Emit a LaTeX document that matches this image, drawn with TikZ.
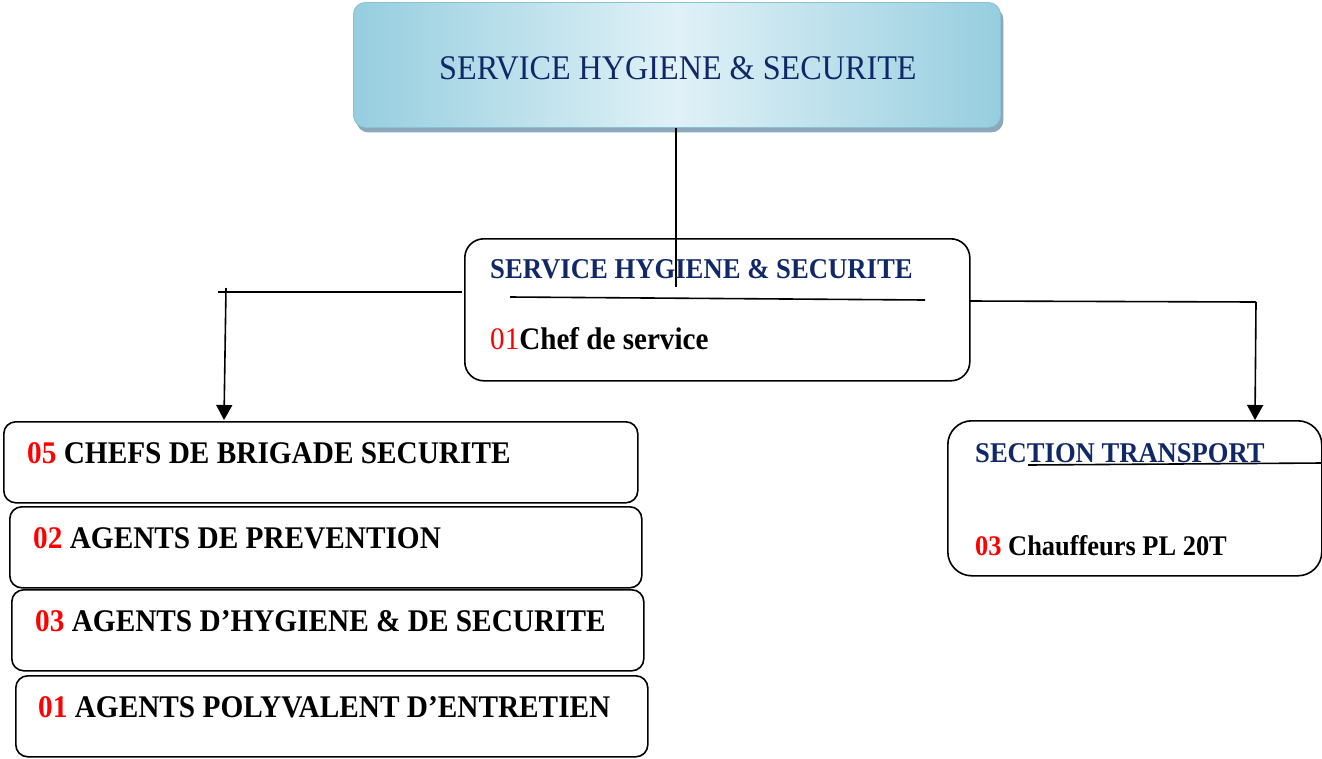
\documentclass[tikz,border=0pt]{standalone}
\usepackage{fontspec}
\setmainfont{Liberation Serif}[FakeStretch=0.93]
\usetikzlibrary{arrows.meta,shadows}

\definecolor{navy}{RGB}{16,40,104}
\definecolor{countred}{RGB}{255,0,0}
\definecolor{skyedge}{RGB}{150,206,223}
\definecolor{skymid}{RGB}{224,241,247}
\definecolor{skyline}{RGB}{138,194,212}
\definecolor{skyshadow}{RGB}{138,168,186}

\newcommand{\fs}[1]{\fontsize{#1}{#1}\selectfont}

\begin{document}
\begin{tikzpicture}[x=1pt,y=-1pt,
  box/.style={draw=black, line width=1.6pt, inner sep=0pt, anchor=north west},
  unitbox/.style={box, rounded corners=12pt, minimum width=632pt, minimum height=81pt},
  headbox/.style={draw=skyline, line width=0.8pt, inner sep=0pt, anchor=north west,
    rounded corners=12pt, minimum width=647pt, minimum height=125pt,
    left color=skyedge, right color=skyedge, middle color=skymid,
    drop shadow={shadow xshift=3pt, shadow yshift=-5pt, fill=skyshadow, opacity=1}},
  lbl/.style={anchor=base west, inner sep=0pt},
  link/.style={line width=1.6pt},
  arrowlink/.style={link, -{Triangle[width=16pt,length=15pt]}},
]
\useasboundingbox (0,0) rectangle (1322,758);

% boxes
\node[headbox] (top) at (353,2) {};
\node[box, rounded corners=19pt, minimum width=505pt, minimum height=142pt] (mid) at (464,238) {};
\node[unitbox, minimum width=634pt] (b1) at (3,421) {};
\node[unitbox] (b2) at (9,506) {};
\node[unitbox] (b3) at (11,589) {};
\node[unitbox] (b4) at (15,675) {};
\node[box, rounded corners=24pt, minimum width=374pt, minimum height=155pt] (tr) at (947,420) {};

% connector points
\coordinate (hub) at (676,287);
\coordinate (lfrom) at (462,292);
\coordinate (lcorner) at (218,292);
\coordinate (ldrop) at (226,288);
\coordinate (ltip) at (224,420);
\coordinate (rfrom) at (969,301);
\coordinate (rcorner) at (1256,302);
\coordinate (rtip) at (1255,420);

% connectors
\draw[link] (top.south -| hub) -- (hub);
\draw[link] (lfrom) -- (lcorner);
\draw[arrowlink] (ldrop) -- (ltip);
\draw[link] (rfrom) -- (rcorner);
\draw[arrowlink] (rcorner) -- (rtip);

% rules under headings
\coordinate (ua) at (510,297);
\coordinate (ub) at (925,300);
\draw[link] (ua) -- (ub);
\coordinate (uc) at (1028,465);
\coordinate (ud) at (1322,463);
\draw[link] (uc) -- (ud);

% texts
\node[lbl, text=navy] (toptxt) at (439,79) {\fs{34.6}SERVICE HYGIENE \& SECURITE};
\node[lbl, text=navy] (midtxt) at (490,278) {\fs{28.7}\bfseries SERVICE HYGIENE \& SECURITE};
\node[lbl] (chef) at (490,349) {\fs{31.3}\textcolor{countred}{01}\textbf{Chef de service}};
\node[lbl] (t1) at (27,463) {\fs{31.5}\bfseries\textcolor{countred}{05} CHEFS DE BRIGADE SECURITE};
\node[lbl] (t2) at (33,548) {\fs{31.5}\bfseries\textcolor{countred}{02} AGENTS DE PREVENTION};
\node[lbl] (t3) at (35,631) {\fs{31.5}\bfseries\textcolor{countred}{03} AGENTS D’HYGIENE \& DE SECURITE};
\node[lbl] (t4) at (38,717) {\fs{31.5}\bfseries\textcolor{countred}{01} AGENTS POLYVALENT D’ENTRETIEN};
\node[lbl, text=navy] (trtxt) at (975,462) {\fs{28.6}\bfseries SECTION TRANSPORT};
\node[lbl] (drv) at (975,555) {\fs{28.4}\bfseries\textcolor{countred}{03} Chauffeurs PL 20T};
\end{tikzpicture}
\end{document}
